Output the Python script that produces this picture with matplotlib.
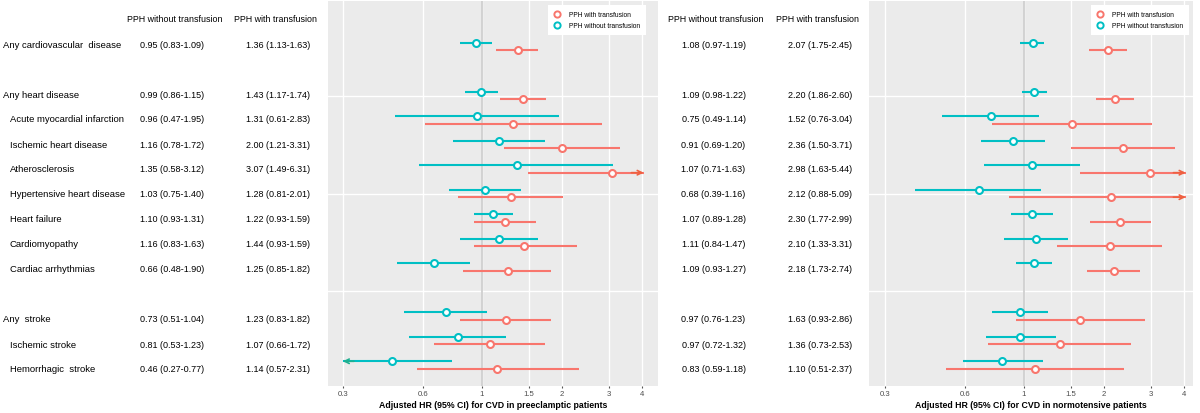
import matplotlib.pyplot as plt
import numpy as np

# rows (top to bottom); blank rows at 1 and 10
outcomes = ['Any cardiovascular  disease', 'Any heart disease', 'Acute myocardial infarction',
            'Ischemic heart disease', 'Atherosclerosis', 'Hypertensive heart disease',
            'Heart failure', 'Cardiomyopathy', 'Cardiac arrhythmias',
            'Any  stroke', 'Ischemic stroke', 'Hemorrhagic  stroke']
rows = [0, 2, 3, 4, 5, 6, 7, 8, 9, 11, 12, 13]
indent = [False, False, True, True, True, True, True, True, True, False, True, True]

# preeclamptic patients (plotted values)
pre_wo_hr = [0.95, 0.99, 0.96, 1.16, 1.35, 1.03, 1.10, 1.16, 0.66, 0.73, 0.81, 0.46]
pre_wo_lo = [0.83, 0.86, 0.47, 0.78, 0.58, 0.75, 0.93, 0.83, 0.48, 0.51, 0.53, 0.27]
pre_wo_hi = [1.09, 1.15, 1.95, 1.72, 3.12, 1.40, 1.31, 1.63, 0.90, 1.04, 1.23, 0.77]
pre_w_hr = [1.36, 1.43, 1.31, 2.00, 3.07, 1.28, 1.22, 1.44, 1.25, 1.23, 1.07, 1.14]
pre_w_lo = [1.13, 1.17, 0.61, 1.21, 1.49, 0.81, 0.93, 0.93, 0.85, 0.83, 0.66, 0.57]
pre_w_hi = [1.63, 1.74, 2.83, 3.31, 6.31, 2.01, 1.59, 2.27, 1.82, 1.82, 1.72, 2.31]

# normotensive patients
nor_wo_hr = [1.08, 1.09, 0.75, 0.91, 1.07, 0.68, 1.07, 1.11, 1.09, 0.97, 0.97, 0.83]
nor_wo_lo = [0.97, 0.98, 0.49, 0.69, 0.71, 0.39, 0.89, 0.84, 0.93, 0.76, 0.72, 0.59]
nor_wo_hi = [1.19, 1.22, 1.14, 1.20, 1.63, 1.16, 1.28, 1.47, 1.27, 1.23, 1.32, 1.18]
nor_w_hr = [2.07, 2.20, 1.52, 2.36, 2.98, 2.12, 2.30, 2.10, 2.18, 1.63, 1.36, 1.10]
nor_w_lo = [1.75, 1.86, 0.76, 1.50, 1.63, 0.88, 1.77, 1.33, 1.73, 0.93, 0.73, 0.51]
nor_w_hi = [2.45, 2.60, 3.04, 3.71, 5.44, 5.09, 2.99, 3.31, 2.74, 2.86, 2.53, 2.37]

# table text as printed
pre_wo_txt = ['0.95 (0.83-1.09)', '0.99 (0.86-1.15)', '0.96 (0.47-1.95)', '1.16 (0.78-1.72)',
              '1.35 (0.58-3.12)', '1.03 (0.75-1.40)', '1.10 (0.93-1.31)', '1.16 (0.83-1.63)',
              '0.66 (0.48-1.90)', '0.73 (0.51-1.04)', '0.81 (0.53-1.23)', '0.46 (0.27-0.77)']
pre_w_txt = ['1.36 (1.13-1.63)', '1.43 (1.17-1.74)', '1.31 (0.61-2.83)', '2.00 (1.21-3.31)',
             '3.07 (1.49-6.31)', '1.28 (0.81-2.01)', '1.22 (0.93-1.59)', '1.44 (0.93-1.59)',
             '1.25 (0.85-1.82)', '1.23 (0.83-1.82)', '1.07 (0.66-1.72)', '1.14 (0.57-2.31)']
nor_wo_txt = ['1.08 (0.97-1.19)', '1.09 (0.98-1.22)', '0.75 (0.49-1.14)', '0.91 (0.69-1.20)',
              '1.07 (0.71-1.63)', '0.68 (0.39-1.16)', '1.07 (0.89-1.28)', '1.11 (0.84-1.47)',
              '1.09 (0.93-1.27)', '0.97 (0.76-1.23)', '0.97 (0.72-1.32)', '0.83 (0.59-1.18)']
nor_w_txt = ['2.07 (1.75-2.45)', '2.20 (1.86-2.60)', '1.52 (0.76-3.04)', '2.36 (1.50-3.71)',
             '2.98 (1.63-5.44)', '2.12 (0.88-5.09)', '2.30 (1.77-2.99)', '2.10 (1.33-3.31)',
             '2.18 (1.73-2.74)', '1.63 (0.93-2.86)', '1.36 (0.73-2.53)', '1.10 (0.51-2.37)']

xticks = [0.3, 0.6, 1, 1.5, 2, 3, 4]
xtick_labels = ['0.3', '0.6', '1', '1.5', '2', '3', '4']

RED = '#F8766D'
TEAL = '#00BFC4'
W, H = 1200, 414


def fx(x):
    return x / W


def fy(y):
    return 1 - y / H


fig = plt.figure(figsize=(12, 4.14), dpi=100)
plt.rcParams['font.family'] = ['Liberation Sans', 'DejaVu Sans']


def draw_series(ax, hr, lo, hi, off, color, clip_lo, clip_hi):
    for r, h, l, u in zip(rows, hr, lo, hi):
        y = r + off
        l2, u2 = max(l, clip_lo), min(u, clip_hi)
        ax.plot([l2, u2], [y, y], color=color, lw=1.5, solid_capstyle='butt', zorder=3)
        if u > clip_hi:
            ax.annotate('', xy=(clip_hi, y), xytext=(clip_hi * 0.9, y),
                        arrowprops=dict(arrowstyle='->', color='#EE6040', lw=1.2,
                                        mutation_scale=8, shrinkA=0, shrinkB=0), zorder=4)
        if l < clip_lo:
            ax.annotate('', xy=(clip_lo, y), xytext=(clip_lo * 1.1, y),
                        arrowprops=dict(arrowstyle='->', color='#20B090', lw=1.2,
                                        mutation_scale=8, shrinkA=0, shrinkB=0), zorder=4)
        ax.plot(h, y, 'o', ms=5, mfc='white', mec=color, mew=1.5, zorder=5)


def panel(rect, xlim, with_d, wo_d, xlabel, leg_x):
    ax = fig.add_axes(rect)
    ax.set_facecolor('#EBEBEB')
    ax.set_xscale('log')
    ax.set_xlim(*xlim)
    ax.set_ylim(13.86, -1.86)
    ax.set_xticks(xticks)
    ax.set_xticklabels(xtick_labels)
    ax.minorticks_off()
    ax.set_yticks([2, 6, 10])
    ax.set_yticklabels([])
    ax.tick_params(axis='y', length=0)
    ax.tick_params(axis='x', length=1.5, color='#555555', labelsize=5.6, labelcolor='#4D4D4D', pad=1.5)
    ax.grid(True, color='white', lw=1.0)
    ax.set_axisbelow(True)
    for s in ax.spines.values():
        s.set_visible(False)
    ax.axvline(1, color='#CFCFCF', lw=1.3, zorder=1)
    draw_series(ax, *wo_d, -0.15, TEAL, 0.3, 4.05)
    draw_series(ax, *with_d, 0.15, RED, 0.3, 4.05)
    h1 = plt.Line2D([], [], ls='', marker='o', ms=4.5, mfc='white', mec=RED, mew=1.4)
    h2 = plt.Line2D([], [], ls='', marker='o', ms=4.5, mfc='white', mec=TEAL, mew=1.4)
    leg = ax.legend([h1, h2], ['PPH with transfusion', 'PPH without transfusion'],
                    loc='upper right', bbox_to_anchor=(leg_x, 0.99), fontsize=4.8,
                    frameon=True, fancybox=False, edgecolor='white', framealpha=1,
                    borderpad=0.9, labelspacing=0.6, handletextpad=1.3, handlelength=1.0,
                    borderaxespad=0)
    leg.get_frame().set_linewidth(0)
    ax.set_xlabel(xlabel, fontsize=6.3, fontweight='bold', labelpad=2)
    return ax


panel([fx(328), (H - 387) / H, 330 / W, 385 / H], (0.2636, 4.59),
      (pre_w_hr, pre_w_lo, pre_w_hi), (pre_wo_hr, pre_wo_lo, pre_wo_hi),
      'Adjusted HR (95% CI) for CVD in preeclamptic patients', 0.964)
panel([fx(869), (H - 387) / H, 324 / W, 385 / H], (0.2613, 4.32),
      (nor_w_hr, nor_w_lo, nor_w_hi), (nor_wo_hr, nor_wo_lo, nor_wo_hi),
      'Adjusted HR (95% CI) for CVD in normotensive patients', 0.988)

fs = 6.8
hfs = 6.4
fig.text(fx(175), fy(20), 'PPH without transfusion', ha='center', va='center', fontsize=hfs)
fig.text(fx(275.5), fy(20), 'PPH with transfusion', ha='center', va='center', fontsize=hfs)
fig.text(fx(716), fy(20), 'PPH without transfusion', ha='center', va='center', fontsize=hfs)
fig.text(fx(817), fy(20), 'PPH with transfusion', ha='center', va='center', fontsize=hfs)

for i, r in enumerate(rows):
    y = fy(45 + 25 * r)
    fig.text(fx(10 if indent[i] else 3), y, outcomes[i], ha='left', va='center', fontsize=fs)
    fig.text(fx(172), y, pre_wo_txt[i], ha='center', va='center', fontsize=6.5)
    fig.text(fx(278.5), y, pre_w_txt[i], ha='center', va='center', fontsize=6.5)
    fig.text(fx(713.5), y, nor_wo_txt[i], ha='center', va='center', fontsize=6.5)
    fig.text(fx(820), y, nor_w_txt[i], ha='center', va='center', fontsize=6.5)

plt.savefig('out.png', dpi=100)
